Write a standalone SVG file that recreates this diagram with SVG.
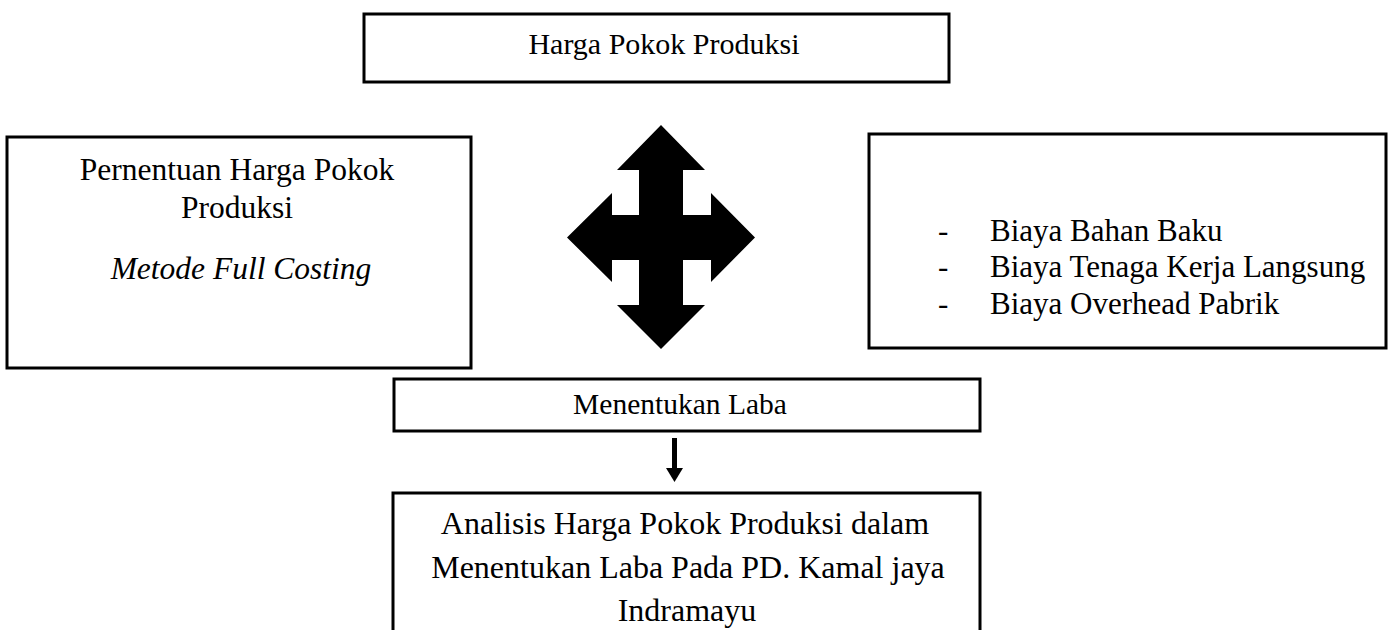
<svg xmlns="http://www.w3.org/2000/svg" width="1392" height="630" viewBox="0 0 1392 630">
<style>
.box{fill:#fff;stroke:#000;stroke-width:3}
.t{font-family:"Liberation Serif","Times New Roman",serif;font-size:30px;fill:#000}
.c{text-anchor:middle}
.i{font-style:italic}
</style>
<rect width="1392" height="630" fill="#fff"/>
<g id="top">
<rect class="box" x="364" y="14" width="585" height="68"/>
<text class="t c" x="664" y="54">Harga Pokok Produksi</text>
</g>
<g id="left">
<rect class="box" x="7" y="137" width="464" height="231"/>
<text class="t c" style="font-size:31.5px" x="237" y="180">Pernentuan Harga Pokok</text>
<text class="t c" style="font-size:31.5px" x="237" y="218">Produksi</text>
<text class="t c i" style="font-size:31.5px" x="241" y="279">Metode Full Costing</text>
</g>
<g id="cross">
<polygon fill="#000" points="661,125 705,170 683,170 683,215 711,215 711,193 755,237.5 711,282 711,260 683,260 683,305 705,305 661,349 617,305 639,305 639,260 612,260 612,282 567,237.5 612,193 612,215 639,215 639,170 617,170"/>
</g>
<g id="right">
<rect class="box" x="869" y="134" width="517" height="214"/>
<text class="t" style="font-size:31px" x="938" y="241">-</text>
<text class="t" style="font-size:31px" x="990" y="241">Biaya Bahan Baku</text>
<text class="t" style="font-size:31px" x="938" y="277">-</text>
<text class="t" style="font-size:31px" x="990" y="277">Biaya Tenaga Kerja Langsung</text>
<text class="t" style="font-size:31px" x="938" y="314">-</text>
<text class="t" style="font-size:31px" x="990" y="314">Biaya Overhead Pabrik</text>
</g>
<g id="laba">
<rect class="box" x="394" y="379" width="586" height="52"/>
<text class="t c" style="font-size:29.5px" x="680" y="414">Menentukan Laba</text>
</g>
<g id="analisis">
<rect class="box" x="393" y="493" width="587" height="150"/>
<text class="t c" style="font-size:32px" x="685" y="534">Analisis Harga Pokok Produksi dalam</text>
<text class="t c" style="font-size:32px" x="688" y="578">Menentukan Laba Pada PD. Kamal jaya</text>
<text class="t c" style="font-size:32px" x="687" y="621">Indramayu</text>
</g>
<g id="connectors">
<rect x="672" y="438" width="5" height="32" fill="#000"/>
<polygon fill="#000" points="666,468 683,468 674.5,482"/>
</g>
</svg>
